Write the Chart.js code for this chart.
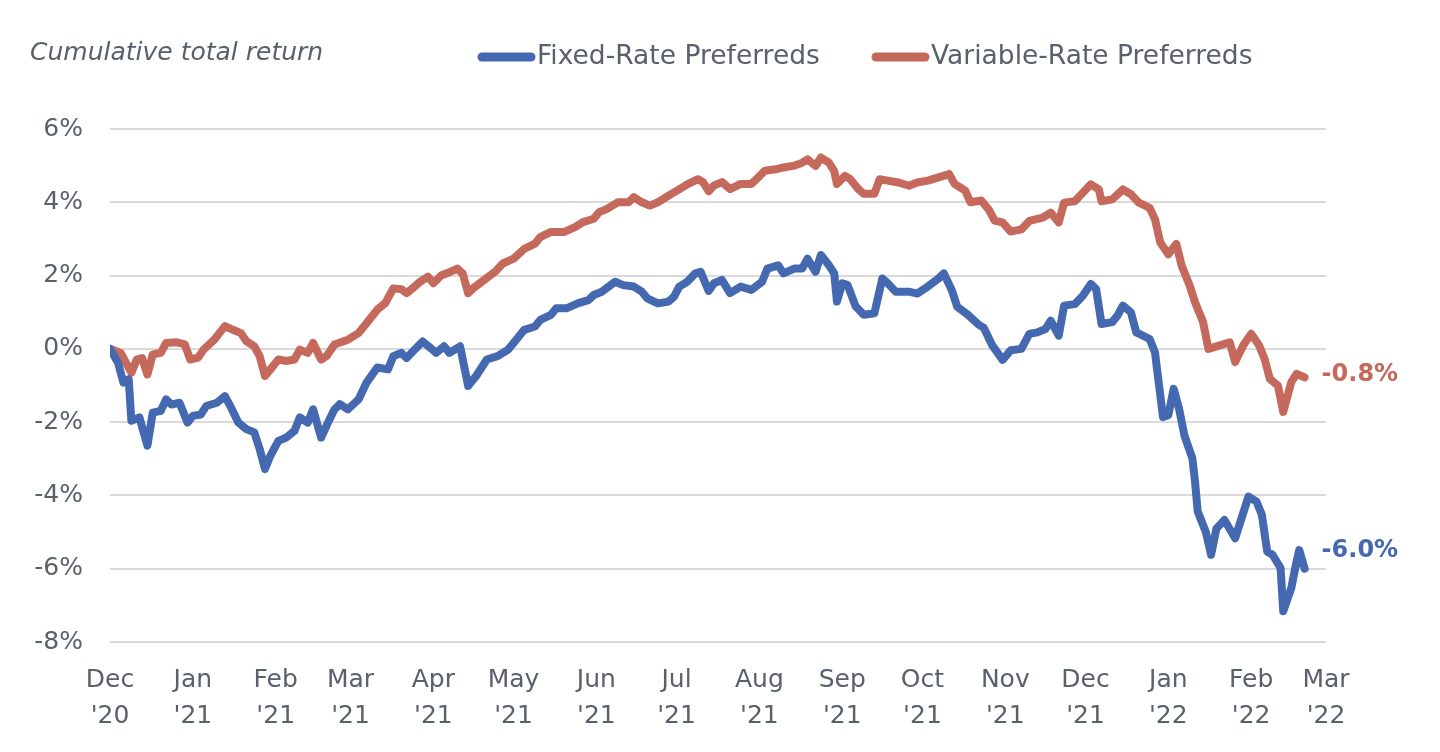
<!DOCTYPE html>
<html>
<head>
<meta charset="utf-8">
<script src="https://cdn.jsdelivr.net/npm/chart.js@4.4.1/dist/chart.umd.min.js"></script>
<style>
  html, body { margin: 0; padding: 0; background: #fff; }
  #wrap { width: 1440px; height: 752px; }
</style>
</head>
<body>
<div id="wrap"><canvas id="chart"></canvas></div>
<script>
// days counted from 1 Dec 2020
const monthStarts = [0, 31, 62, 90, 121, 151, 182, 212, 243, 274, 304, 335, 365, 396, 427, 455];
const monthNames = ['Dec', 'Jan', 'Feb', 'Mar', 'Apr', 'May', 'Jun', 'Jul', 'Aug', 'Sep', 'Oct', 'Nov', 'Dec', 'Jan', 'Feb', 'Mar'];
const yearNames = ["'20", "'21", "'21", "'21", "'21", "'21", "'21", "'21", "'21", "'21", "'21", "'21", "'21", "'22", "'22", "'22"];

const seriesNames = ['Fixed-Rate Preferreds', 'Variable-Rate Preferreds'];
const endLabels = ['-6.0%', '-0.8%'];

const fixedDays = [0, 3, 5, 7, 8, 11, 14, 16, 19, 21, 23, 26, 29, 31, 34, 36, 40, 43, 45, 48, 51, 54, 56, 58, 60, 63, 66, 69, 71, 74, 76, 79, 81, 84, 86, 89, 93, 96, 100, 104, 106, 109, 111, 114, 117, 120, 122, 125, 127, 131, 132, 134, 137, 141, 145, 149, 152, 155, 159, 161, 165, 167, 171, 175, 179, 181, 184, 189, 192, 196, 199, 201, 205, 209, 211, 213, 216, 219, 221, 224, 226, 229, 232, 236, 240, 244, 246, 250, 252, 256, 259, 261, 264, 266, 269, 271, 272, 274, 276, 279, 282, 286, 289, 291, 294, 299, 302, 306, 310, 312, 315, 317, 321, 325, 327, 330, 334, 337, 341, 344, 347, 350, 352, 355, 357, 361, 364, 367, 369, 371, 375, 377, 379, 382, 384, 389, 391, 393, 394, 396, 398, 400, 402, 405, 406, 407, 410, 412, 414, 417, 421, 423, 426, 429, 431, 433, 435, 438, 439, 442, 444, 445, 447];
const fixedReturns = [0, -0.38, -0.92, -0.83, -1.96, -1.87, -2.64, -1.74, -1.69, -1.38, -1.52, -1.47, -2.01, -1.83, -1.79, -1.56, -1.47, -1.29, -1.56, -2.01, -2.19, -2.28, -2.73, -3.28, -2.92, -2.51, -2.42, -2.24, -1.87, -2.01, -1.65, -2.42, -2.10, -1.65, -1.51, -1.65, -1.38, -0.92, -0.51, -0.56, -0.20, -0.11, -0.25, -0.02, 0.20, 0.02, -0.11, 0.07, -0.11, 0.07, -0.29, -1.01, -0.74, -0.29, -0.20, -0.02, 0.25, 0.52, 0.61, 0.79, 0.93, 1.11, 1.11, 1.24, 1.33, 1.47, 1.56, 1.83, 1.74, 1.70, 1.56, 1.38, 1.24, 1.29, 1.42, 1.70, 1.83, 2.06, 2.10, 1.58, 1.79, 1.88, 1.52, 1.70, 1.61, 1.83, 2.19, 2.28, 2.06, 2.19, 2.19, 2.46, 2.10, 2.56, 2.28, 2.06, 1.29, 1.79, 1.74, 1.16, 0.93, 0.97, 1.92, 1.79, 1.56, 1.56, 1.51, 1.70, 1.92, 2.06, 1.60, 1.15, 0.93, 0.66, 0.57, 0.11, -0.30, -0.04, 0.00, 0.41, 0.45, 0.54, 0.77, 0.36, 1.18, 1.22, 1.45, 1.77, 1.63, 0.68, 0.73, 0.91, 1.18, 1.00, 0.45, 0.27, -0.09, -1.27, -1.86, -1.81, -1.09, -1.63, -2.36, -2.99, -3.63, -4.44, -4.99, -5.62, -4.90, -4.67, -5.17, -4.71, -4.03, -4.17, -4.53, -5.53, -5.62, -5.98, -7.16, -6.53, -5.80, -5.49, -6.00];

const variableDays = [0, 4, 8, 10, 12, 14, 16, 19, 21, 25, 28, 30, 33, 35, 39, 43, 46, 49, 51, 54, 56, 58, 60, 63, 66, 69, 71, 74, 76, 79, 81, 84, 89, 93, 96, 100, 103, 106, 109, 111, 114, 116, 119, 121, 124, 126, 130, 132, 134, 136, 140, 144, 147, 151, 155, 159, 161, 165, 170, 174, 177, 181, 183, 186, 190, 194, 196, 199, 202, 205, 209, 212, 216, 220, 222, 224, 226, 229, 232, 236, 240, 242, 245, 249, 252, 256, 259, 261, 264, 266, 269, 271, 272, 275, 277, 280, 282, 286, 288, 291, 295, 299, 302, 306, 310, 314, 316, 320, 322, 326, 329, 331, 334, 337, 341, 344, 349, 352, 355, 357, 361, 364, 367, 370, 371, 375, 379, 382, 385, 389, 391, 393, 396, 399, 401, 404, 406, 409, 411, 415, 419, 421, 424, 427, 430, 432, 434, 437, 439, 442, 444, 447];
const variableReturns = [0, -0.11, -0.65, -0.29, -0.25, -0.70, -0.15, -0.11, 0.16, 0.18, 0.12, -0.29, -0.24, -0.02, 0.25, 0.62, 0.52, 0.43, 0.21, 0.07, -0.20, -0.74, -0.56, -0.29, -0.33, -0.29, -0.02, -0.11, 0.16, -0.29, -0.20, 0.12, 0.25, 0.43, 0.70, 1.07, 1.25, 1.65, 1.63, 1.52, 1.70, 1.83, 1.97, 1.79, 2.01, 2.06, 2.19, 2.05, 1.52, 1.66, 1.88, 2.10, 2.33, 2.46, 2.73, 2.87, 3.05, 3.19, 3.19, 3.32, 3.46, 3.55, 3.73, 3.82, 4.00, 4.00, 4.14, 4.00, 3.91, 4.00, 4.18, 4.31, 4.49, 4.63, 4.54, 4.30, 4.46, 4.55, 4.36, 4.50, 4.50, 4.64, 4.86, 4.90, 4.95, 5.00, 5.08, 5.17, 4.99, 5.22, 5.08, 4.85, 4.50, 4.72, 4.63, 4.36, 4.23, 4.23, 4.63, 4.59, 4.54, 4.45, 4.54, 4.59, 4.68, 4.77, 4.50, 4.32, 4.00, 4.05, 3.78, 3.50, 3.45, 3.20, 3.26, 3.49, 3.58, 3.72, 3.45, 3.99, 4.03, 4.26, 4.49, 4.35, 4.03, 4.08, 4.35, 4.22, 3.99, 3.85, 3.54, 2.90, 2.58, 2.86, 2.27, 1.72, 1.27, 0.73, 0.00, 0.09, 0.18, -0.36, 0.09, 0.41, 0.09, -0.27, -0.82, -1.00, -1.72, -0.91, -0.68, -0.78];

const blue = '#4569b0';
const red = '#c4695b';
const textColor = '#58616c';
const gridColor = '#dadada';
const fontFamily = '"DejaVu Sans", sans-serif';

function toPoints(days, values) {
  return days.map((d, i) => ({ x: d, y: values[i] }));
}

// title, legend and end-of-line labels
const overlay = {
  id: 'overlay',
  afterDraw(chart) {
    const ctx = chart.ctx;
    ctx.save();
    ctx.textBaseline = 'middle';
    ctx.textAlign = 'left';
    ctx.fillStyle = textColor;
    ctx.font = 'italic 25px ' + fontFamily;
    ctx.fillText('Cumulative total return', 30, 53);

    const colors = [blue, red];
    const legendX = [477, 871];
    ctx.font = '26.5px ' + fontFamily;
    seriesNames.forEach((name, i) => {
      const x = legendX[i];
      ctx.strokeStyle = colors[i];
      ctx.lineWidth = 9;
      ctx.lineCap = 'round';
      ctx.beginPath();
      ctx.moveTo(x + 5, 57);
      ctx.lineTo(x + 54, 57);
      ctx.stroke();
      ctx.fillStyle = textColor;
      ctx.fillText(name, x + 60, 57);
    });

    ctx.font = 'bold 24px ' + fontFamily;
    const offsets = [-18, -3];
    chart.data.datasets.forEach((ds, i) => {
      const pts = chart.getDatasetMeta(i).data;
      const last = pts[pts.length - 1];
      ctx.fillStyle = colors[i];
      ctx.fillText(endLabels[i], last.x + 17, last.y + offsets[i]);
    });
    ctx.restore();
  }
};

new Chart(document.getElementById('chart'), {
  type: 'line',
  data: {
    datasets: [
      {
        label: seriesNames[0],
        data: toPoints(fixedDays, fixedReturns),
        borderColor: blue,
        borderWidth: 8,
        pointRadius: 0,
        tension: 0,
        borderJoinStyle: 'round',
        borderCapStyle: 'round'
      },
      {
        label: seriesNames[1],
        data: toPoints(variableDays, variableReturns),
        borderColor: red,
        borderWidth: 8,
        pointRadius: 0,
        tension: 0,
        borderJoinStyle: 'round',
        borderCapStyle: 'round'
      }
    ]
  },
  options: {
    responsive: true,
    maintainAspectRatio: false,
    animation: false,
    layout: { padding: { top: 129, right: 114, bottom: 0, left: 0 } },
    plugins: {
      legend: { display: false },
      title: { display: false },
      tooltip: { enabled: false }
    },
    scales: {
      x: {
        type: 'linear',
        min: 0,
        max: 455,
        grid: { display: false, drawTicks: false },
        border: { display: false },
        afterBuildTicks: axis => { axis.ticks = monthStarts.map(v => ({ value: v })); },
        afterFit: axis => { axis.height = 110; },
        ticks: {
          autoSkip: false,
          maxRotation: 0,
          padding: 21,
          color: textColor,
          font: { family: fontFamily, size: 25, lineHeight: 1.42 },
          callback: (v, i) => [monthNames[i], yearNames[i]]
        }
      },
      y: {
        min: -8,
        max: 6,
        grid: { color: gridColor, lineWidth: 2, drawTicks: false },
        border: { display: false },
        afterFit: axis => { axis.width = 110; },
        ticks: {
          stepSize: 2,
          padding: 27,
          color: textColor,
          font: { family: fontFamily, size: 25 },
          callback: v => v + '%'
        }
      }
    }
  },
  plugins: [overlay]
});
</script>
</body>
</html>
